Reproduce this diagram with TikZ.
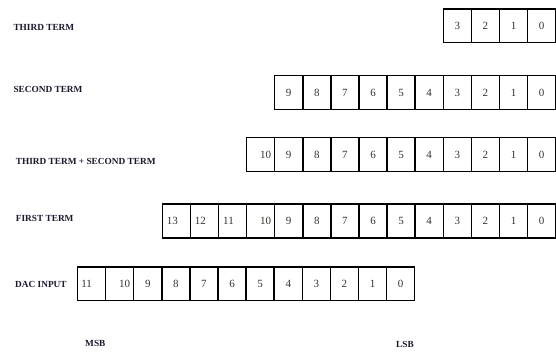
\documentclass[tikz,border=0pt]{standalone}
\usepackage{fontspec}
\setmainfont{Liberation Serif}
\usetikzlibrary{positioning}
\definecolor{labelink}{RGB}{25,25,45}
\definecolor{digitink}{RGB}{55,50,45}

\begin{document}
\begin{tikzpicture}[
  x=1pt, y=-1pt,
  every node/.style={inner sep=0pt},
  bitbox/.style={draw, line width=1.5pt, minimum width=28.1pt, minimum height=33.6pt},
  digit/.style={font=\fontsize{11}{12}\selectfont, text=digitink},
  rowlabel/.style={anchor=west, font=\fontsize{9.3}{11}\selectfont\bfseries, text=labelink}
]
\useasboundingbox (0,0) rectangle (556,354);

% bit registers, bit 0 on the right
\foreach \row/\ypos/\msbit in {third/25.8/3, second/92.5/9, sum/154.5/10, first/221/13}{
  \foreach \b in {0,...,\msbit}{
    \pgfmathsetmacro\dx{(\b>10)*(-4)+(\b==10)*5}
    \node[bitbox, label={[digit, xshift=\dx pt]center:\b}] (\row-\b) at ({541.6-28.1*\b},\ypos) {};
  }
}

\foreach \b in {0,...,11}{
  \pgfmathsetmacro\dx{(\b>10)*(-5)+(\b==10)*5}
  \node[bitbox, label={[digit, xshift=\dx pt]center:\b}] (dac-\b) at ({400.65-28.1*\b},283.7) {};
}

\node[rowlabel] (third) at (13.3,27.3) {THIRD TERM};
\node[rowlabel] (second) at (13.3,89.3) {SECOND TERM};
\node[rowlabel] (sum) at (15.7,161.7) {THIRD TERM + SECOND TERM};
\node[rowlabel] (first) at (15.7,218.3) {FIRST TERM};
\node[rowlabel] (dac) at (15,284.3) {DAC INPUT};
\node[rowlabel, anchor=center] (msb) at (95.3,343.3) {MSB};
\node[rowlabel, anchor=center] (lsb) at (405,344) {LSB};
\end{tikzpicture}
\end{document}
